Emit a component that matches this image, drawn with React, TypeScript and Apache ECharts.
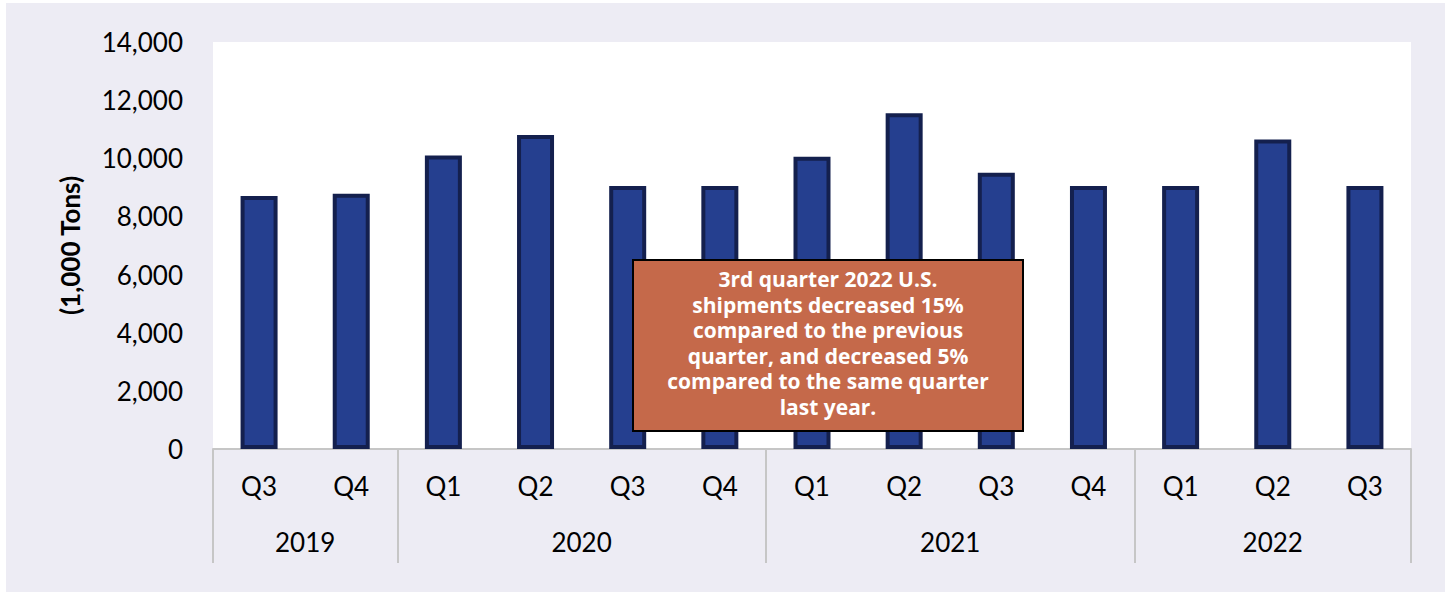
import React, { useEffect, useRef } from "react";
import * as echarts from "echarts";

const quarters = ["Q3", "Q4", "Q1", "Q2", "Q3", "Q4", "Q1", "Q2", "Q3", "Q4", "Q1", "Q2", "Q3"];
const shipments = [8700, 8780, 10100, 10800, 9050, 9050, 10050, 11550, 9500, 9050, 9050, 10650, 9050];
const years = ["2019", "2020", "2021", "2022"];
const quartersPerYear = [2, 4, 4, 3];
const yTicks = { min: 0, max: 14000, interval: 2000 };
const axisName = "(1,000 Tons)";
const noteLines = [
  "3rd quarter 2022 U.S.",
  "shipments decreased 15%",
  "compared to the previous",
  "quarter, and decreased 5%",
  "compared to the same quarter",
  "last year.",
];

export default function App() {
  const ref = useRef<HTMLDivElement>(null);
  useEffect(() => {
    if (!ref.current) return;
    const chart = echarts.init(ref.current, null, { renderer: "svg" });

    const boundaries: number[] = [];
    const yearCenters: Record<number, string> = {};
    let acc = 0;
    quartersPerYear.forEach((n, i) => {
      boundaries.push(acc);
      yearCenters[Math.round((acc + n / 2) * 2)] = years[i];
      acc += n;
    });

    const font = "Lato";
    const lineGap = 25.5;
    const noteElements: any[] = [
      {
        type: "rect",
        z: 100,
        zlevel: 1,
        shape: { x: 633, y: 260, width: 390, height: 171 },
        style: { fill: "#C5694A", stroke: "#000", lineWidth: 2 },
      },
      ...noteLines.map((line, i) => ({
        type: "text",
        z: 101,
        zlevel: 1,
        x: 828,
        y: 343 + (i - (noteLines.length - 1) / 2) * lineGap,
        style: {
          text: line,
          fill: "#fff",
          font: `bold 21px "Open Sans"`,
          lineHeight: 24,
          align: "center",
          verticalAlign: "middle",
        },
      })),
    ];

    chart.setOption({
      animation: false,
      backgroundColor: "transparent",
      textStyle: { fontFamily: font },
      grid: {
        left: 213,
        right: 38,
        top: 42,
        bottom: 143,
        show: true,
        backgroundColor: "#ffffff",
        borderWidth: 0,
      },
      xAxis: [
        {
          type: "category",
          data: quarters,
          position: "bottom",
          axisLine: { show: true, lineStyle: { color: "#C6C6C6", width: 2 } },
          axisTick: {
            show: true,
            alignWithLabel: false,
            interval: (index: number) => boundaries.includes(index),
            length: 114,
            lineStyle: { color: "#C6C6C6", width: 2 },
          },
          axisLabel: {
            interval: 0,
            margin: 24,
            fontSize: 26,
            lineHeight: 26,
            color: "#000",
            fontFamily: font,
          },
          splitLine: { show: false },
        },
        {
          type: "value",
          position: "bottom",
          min: 0,
          max: quarters.length,
          interval: 0.5,
          axisLine: { show: false },
          axisTick: { show: false },
          splitLine: { show: false },
          axisLabel: {
            margin: 80,
            fontSize: 26,
            lineHeight: 26,
            color: "#000",
            fontFamily: font,
            showMinLabel: true,
            showMaxLabel: true,
            formatter: (v: number) => yearCenters[Math.round(v * 2)] ?? "",
          },
        },
      ],
      yAxis: {
        type: "value",
        min: yTicks.min,
        max: yTicks.max,
        interval: yTicks.interval,
        name: axisName,
        nameLocation: "middle",
        nameGap: 130,
        nameRotate: 90,
        nameTextStyle: { fontSize: 26, fontWeight: "bold", color: "#000", fontFamily: font },
        axisLine: { show: false },
        axisTick: { show: false },
        splitLine: { show: false },
        axisLabel: {
          margin: 30,
          fontSize: 26,
          color: "#000",
          fontFamily: font,
          formatter: (v: number) => v.toLocaleString("en-US"),
        },
      },
      series: [
        {
          type: "bar",
          xAxisIndex: 0,
          data: shipments,
          barWidth: 37,
          itemStyle: { color: "#253F8F", borderColor: "#14204E", borderWidth: 4 },
        },
      ],
      graphic: noteElements,
    });
    return () => chart.dispose();
  }, []);

  return (
    <div style={{ position: "fixed", left: 0, top: 0, width: 1449, height: 592, background: "#fff" }}>
      <div style={{ position: "absolute", left: 6, top: 3, width: 1439, height: 589, background: "#EDECF4" }} />
      <div ref={ref} style={{ position: "absolute", left: 0, top: 0, width: 1449, height: 592 }} />
    </div>
  );
}
